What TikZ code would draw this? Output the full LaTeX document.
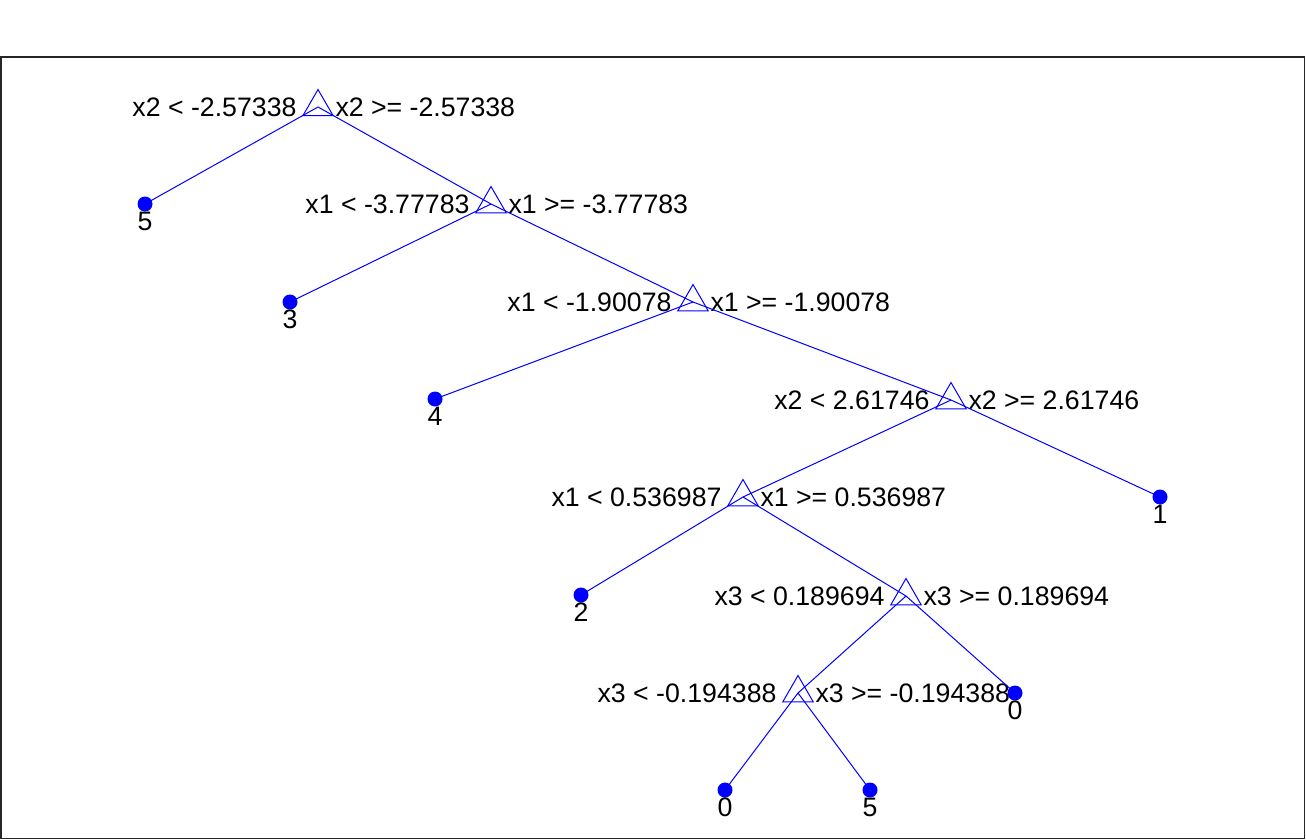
\documentclass[tikz,border=0pt]{standalone}
\usepackage{fontspec}
\setmainfont{Liberation Sans}
\usetikzlibrary{shapes.geometric,positioning}

\begin{document}
\begin{tikzpicture}[x=1pt,y=-1pt,line width=1pt]
	\tikzstyle{split}=[regular polygon,regular polygon sides=3,draw=blue,minimum size=35pt,inner sep=0pt]
	\tikzstyle{leaf}=[circle,fill=blue,minimum size=15pt,inner sep=0pt]
	\tikzstyle{annot}=[font=\fontsize{26.7}{30}\selectfont,inner sep=0pt]
	\tikzstyle{branch}=[draw=blue]

	% Frame of the axes
	\useasboundingbox (0,0) rectangle (1306,840);
	\draw[black!85,line width=1.2pt] (1,57) rectangle (1304.5,838.5);

	% Draw the split nodes with their two conditions
	\foreach \name/\x/\y/\lt/\rt in {
		N1/318/107/x2 < -2.57338/x2 >= -2.57338,
		N2/491/204/x1 < -3.77783/x1 >= -3.77783,
		N3/693/302/x1 < -1.90078/x1 >= -1.90078,
		N4/951/400/x2 < 2.61746/x2 >= 2.61746,
		N5/743/497/x1 < 0.536987/x1 >= 0.536987,
		N6/906/596/x3 < 0.189694/x3 >= 0.189694,
		N7/798/693/x3 < -0.194388/x3 >= -0.194388}{
		\node[split] (\name) at (\x,\y) {};
		\node[annot,anchor=base east] (\name-l) at ([xshift=-21pt,yshift=-9.7pt]\name.center) {\lt};
		\node[annot,anchor=base west] (\name-r) at ([xshift=17pt,yshift=-9.7pt]\name.center) {\rt};
	}

	% Draw the leaves with their class
	\foreach \name/\x/\y/\val in {
		L1/145/204/5, L2/290/302/3, L3/435/399/4, L4/1160/497/1,
		L5/581/595/2, L6/1015/693/0, L7/725/790/0, L8/870/790/5}{
		\node[leaf] (\name) at (\x,\y) {};
		\node[annot,anchor=base] (\name-v) at ([yshift=-26pt]\name.center) {\val};
	}

	% Connect every node with its children
	\foreach \source/\dest in {N1/L1, N1/N2, N2/L2, N2/N3, N3/L3, N3/N4,
		N4/N5, N4/L4, N5/L5, N5/N6, N6/N7, N6/L6, N7/L7, N7/L8}
	\path[branch] (\source.center) -- (\dest.center);

\end{tikzpicture}
\end{document}
